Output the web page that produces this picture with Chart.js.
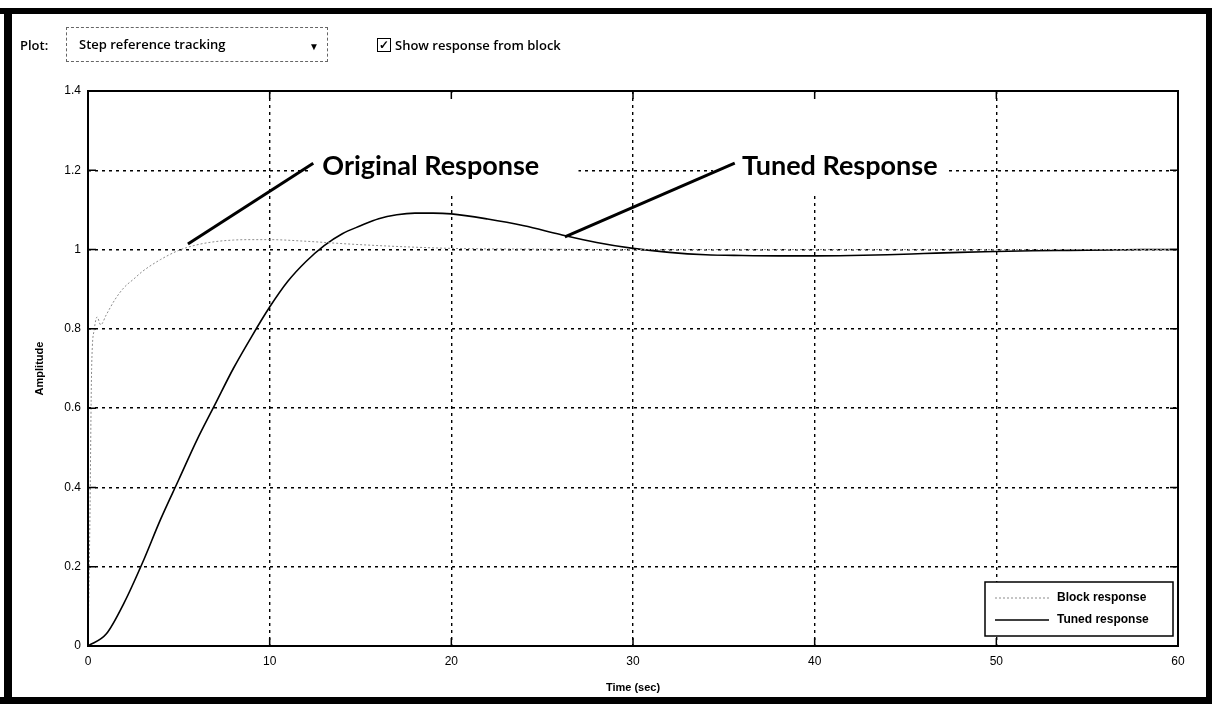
<!DOCTYPE html>
<html>
<head>
<meta charset="utf-8">
<script src="https://cdn.jsdelivr.net/npm/chart.js@4.4.1/dist/chart.umd.min.js"></script>
<style>
  html, body { margin: 0; padding: 0; background: #fff; }
  #wrap { position: relative; width: 1212px; height: 704px; overflow: hidden; background: #fff; }
  #myChart { position: absolute; left: 0; top: 0; }
  .bar { position: absolute; background: #000; }
  .tb { position: absolute; font-family: "Open Sans", sans-serif; font-size: 13px; font-weight: 600; color: #000; line-height: 16px; }
  #dropdown { position: absolute; left: 66px; top: 27px; width: 262px; height: 35px; border: 1px dashed #666; box-sizing: border-box; }
  #dropdown span { position: absolute; left: 12px; top: 8px; }
  #dropdown i { position: absolute; right: 8px; top: 10px; font-style: normal; font-size: 10px; }
  #chk { position: absolute; left: 377px; top: 38px; width: 12px; height: 12px; border: 1px solid #000; font-size: 12px; line-height: 12px; text-align: center; font-weight: 700; }
</style>
</head>
<body>
<div id="wrap">
  <canvas id="myChart" width="1212" height="704"></canvas>
  <!-- screenshot frame -->
  <div class="bar" style="left:0;top:8px;width:1212px;height:6px"></div>
  <div class="bar" style="left:4px;top:8px;width:8px;height:696px"></div>
  <div class="bar" style="left:1206px;top:8px;width:6px;height:696px"></div>
  <div class="bar" style="left:0;top:697px;width:1212px;height:7px"></div>
  <!-- toolbar -->
  <div class="tb" style="left:20px;top:37px">Plot:</div>
  <div class="tb" id="dropdown"><span>Step reference tracking</span><i>&#9660;</i></div>
  <div class="tb" id="chk">&#10003;</div>
  <div class="tb" style="left:395px;top:37px">Show response from block</div>
</div>
<script>
// step response samples
const tunedTime = [0, 1, 2, 3, 4, 5, 6, 7, 8, 9, 10, 11, 12, 13, 14, 15, 16, 17, 18, 19, 20, 22, 24, 26, 28, 30, 32, 34, 36, 38, 40, 42, 44, 46, 48, 50, 52, 54, 56, 58, 60];
const tunedAmp = [0, 0.03, 0.11, 0.21, 0.32, 0.42, 0.52, 0.61, 0.7, 0.78, 0.855, 0.92, 0.97, 1.01, 1.04, 1.06, 1.078, 1.088, 1.092, 1.092, 1.09, 1.077, 1.06, 1.038, 1.018, 1.003, 0.993, 0.987, 0.985, 0.984, 0.984, 0.985, 0.987, 0.99, 0.993, 0.995, 0.997, 0.998, 0.999, 1.0, 1.0];

const blockTime = [0, 0.1, 0.2, 0.35, 0.5, 0.7, 1, 1.5, 2, 2.5, 3, 4, 5, 6, 7, 8, 9, 10, 12, 14, 16, 18, 20, 25, 30, 40, 50, 60];
const blockAmp = [0, 0.3, 0.7, 0.8, 0.83, 0.81, 0.835, 0.875, 0.905, 0.925, 0.945, 0.975, 0.998, 1.012, 1.02, 1.024, 1.025, 1.025, 1.021, 1.015, 1.01, 1.006, 1.003, 1.001, 1.0, 1.0, 1.0, 1.0];

const xTicks = [0, 10, 20, 30, 40, 50, 60];
const yTicks = [0, 0.2, 0.4, 0.6, 0.8, 1, 1.2, 1.4];

const legendLabels = ["Block response", "Tuned response"];

// callouts: [label, arrow tip t, tip amp, arrow tail t, tail amp, text t, text amp, mask t0, mask t1]
const callouts = [
  ["Original Response", 5.5, 1.014, 12.4, 1.218, 12.9, 1.188, 12.2, 27.0],
  ["Tuned Response", 26.25, 1.032, 35.6, 1.218, 36.0, 1.188, 34.4, 47.2],
];
const maskBottom = 1.145;

const toPts = (xs, ys) => xs.map((x, i) => ({ x: x, y: ys[i] }));

const tickFont = { family: "'Liberation Sans', Arial, sans-serif", size: 12 };

const plotDecor = {
  id: "plotDecor",
  beforeDatasetsDraw(chart) {
    const { ctx, scales: { x, y } } = chart;
    ctx.save();
    ctx.fillStyle = "#fff";
    callouts.forEach((c) => {
      const x0 = x.getPixelForValue(c[7]);
      const x1 = x.getPixelForValue(c[8]);
      const y0 = chart.chartArea.top + 2;
      const y1 = y.getPixelForValue(maskBottom);
      ctx.fillRect(x0, y0, x1 - x0, y1 - y0);
    });
    ctx.restore();
  },
  afterDatasetsDraw(chart) {
    const { ctx, scales: { x, y } } = chart;
    ctx.save();
    callouts.forEach((c) => {
      ctx.strokeStyle = "#000";
      ctx.lineWidth = 3;
      ctx.beginPath();
      ctx.moveTo(x.getPixelForValue(c[1]), y.getPixelForValue(c[2]));
      ctx.lineTo(x.getPixelForValue(c[3]), y.getPixelForValue(c[4]));
      ctx.stroke();
      ctx.fillStyle = "#000";
      ctx.font = "bold 27px Lato, 'Open Sans', sans-serif";
      ctx.textBaseline = "alphabetic";
      ctx.fillText(c[0], x.getPixelForValue(c[5]), y.getPixelForValue(c[6]));
    });
    ctx.restore();
  },
  afterDraw(chart) {
    const { ctx, chartArea: a, scales: { x, y } } = chart;
    ctx.save();
    // solid frame + inward ticks
    ctx.strokeStyle = "#000";
    ctx.lineWidth = 2;
    ctx.strokeRect(a.left, a.top, a.right - a.left, a.bottom - a.top);
    ctx.lineWidth = 1.5;
    ctx.beginPath();
    yTicks.forEach((v) => {
      const py = y.getPixelForValue(v);
      ctx.moveTo(a.left, py); ctx.lineTo(a.left + 8, py);
      ctx.moveTo(a.right, py); ctx.lineTo(a.right - 8, py);
    });
    xTicks.forEach((v) => {
      const px = x.getPixelForValue(v);
      ctx.moveTo(px, a.bottom); ctx.lineTo(px, a.bottom - 8);
      ctx.moveTo(px, a.top); ctx.lineTo(px, a.top + 8);
    });
    ctx.stroke();

    // axis titles
    ctx.fillStyle = "#000";
    ctx.font = "bold 11px 'Liberation Sans', Arial, sans-serif";
    ctx.textAlign = "center";
    ctx.textBaseline = "middle";
    ctx.fillText("Time (sec)", (a.left + a.right) / 2, 688);
    ctx.save();
    ctx.translate(40, (a.top + a.bottom) / 2);
    ctx.rotate(-Math.PI / 2);
    ctx.fillText("Amplitude", 0, 0);
    ctx.restore();

    // legend box in the lower right corner
    const lx = a.right - 193, ly = a.bottom - 64, lw = 188, lh = 54;
    ctx.fillStyle = "#fff";
    ctx.fillRect(lx, ly, lw, lh);
    ctx.strokeStyle = "#000";
    ctx.lineWidth = 1.5;
    ctx.strokeRect(lx, ly, lw, lh);
    const ds = chart.data.datasets;
    legendLabels.forEach((lab, i) => {
      const cy = ly + 16 + i * 22;
      ctx.strokeStyle = ds[i].borderColor;
      ctx.lineWidth = ds[i].borderWidth;
      ctx.setLineDash(ds[i].borderDash || []);
      ctx.beginPath();
      ctx.moveTo(lx + 10, cy);
      ctx.lineTo(lx + 64, cy);
      ctx.stroke();
      ctx.setLineDash([]);
      ctx.fillStyle = "#000";
      ctx.textAlign = "left";
      ctx.font = "bold 12px 'Liberation Sans', Arial, sans-serif";
      ctx.fillText(lab, lx + 72, cy);
    });
    ctx.restore();
  },
};

const data = {
  datasets: [
    {
      label: legendLabels[0],
      data: toPts(blockTime, blockAmp),
      borderColor: "#8c8c8c",
      borderWidth: 1,
      borderDash: [2, 2],
      pointRadius: 0,
      fill: false,
      cubicInterpolationMode: "monotone",
    },
    {
      label: legendLabels[1],
      data: toPts(tunedTime, tunedAmp),
      borderColor: "#000",
      borderWidth: 1.6,
      pointRadius: 0,
      fill: false,
      cubicInterpolationMode: "monotone",
    },
  ],
};

const config = {
  type: "line",
  data: data,
  plugins: [plotDecor],
  options: {
    responsive: false,
    animation: false,
    layout: { padding: { top: 91, right: 34, left: 0, bottom: 0 } },
    plugins: {
      legend: { display: false },
      tooltip: { enabled: false },
    },
    scales: {
      x: {
        type: "linear",
        min: 0,
        max: 60,
        afterBuildTicks: (s) => { s.ticks = xTicks.map((v) => ({ value: v })); },
        afterFit: (s) => { s.height = 58; },
        grid: { color: "#000", lineWidth: 1.4, drawTicks: false },
        border: { display: false, dash: [3, 4] },
        ticks: { font: tickFont, color: "#000", padding: 8, maxRotation: 0 },
      },
      y: {
        type: "linear",
        min: 0,
        max: 1.4,
        afterBuildTicks: (s) => { s.ticks = yTicks.map((v) => ({ value: v })); },
        afterFit: (s) => { s.width = 88; },
        grid: { color: "#000", lineWidth: 1.4, drawTicks: false },
        border: { display: false, dash: [3, 4] },
        ticks: {
          font: tickFont,
          color: "#000",
          padding: 7,
          callback: (v) => String(Number(v.toFixed(1))),
        },
      },
    },
  },
};

const ctx = document.getElementById("myChart").getContext("2d");
new Chart(ctx, config);
</script>
</body>
</html>
